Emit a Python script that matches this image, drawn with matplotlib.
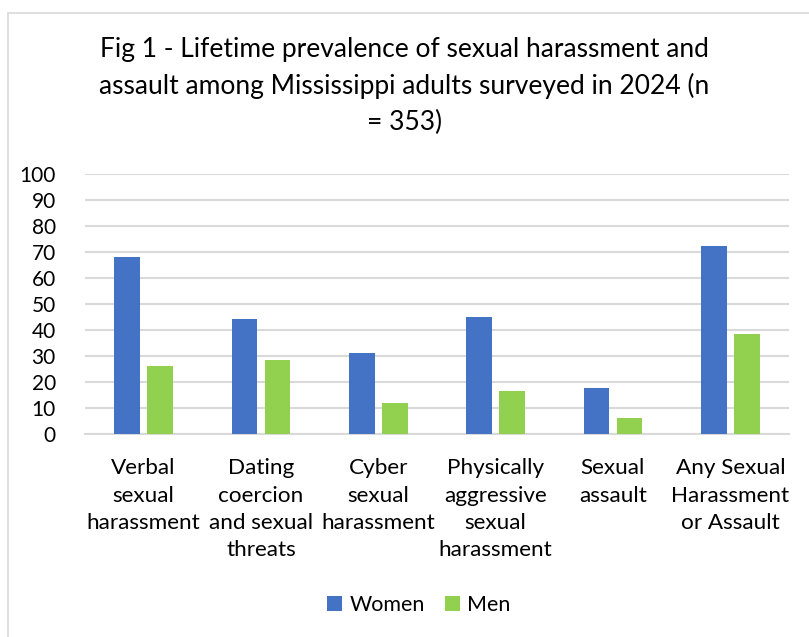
import matplotlib
matplotlib.use("Agg")
import matplotlib.pyplot as plt
import numpy as np
from matplotlib.patches import Rectangle

plt.rcParams['font.family'] = ['Lato', 'DejaVu Sans']

categories = ["Verbal\nsexual\nharassment", "Dating\ncoercion\nand sexual\nthreats",
              "Cyber\nsexual\nharassment", "Physically\naggressive\nsexual\nharassment",
              "Sexual\nassault", "Any Sexual\nHarassment\nor Assault"]
women = [68, 44.2, 30.9, 44.8, 17.5, 72.3]
men = [25.9, 28.2, 11.6, 16.2, 5.9, 38.3]
yticks = list(range(0, 101, 10))

W, H = 809, 637
fig = plt.figure(figsize=(W / 100, H / 100), dpi=100)
fig.patch.set_facecolor('white')

# outer chart border
fig.patches.append(Rectangle((8 / W, -0.05), 1.1, 1 - 13 / H + 0.05, transform=fig.transFigure,
                             fill=False, edgecolor='#d9d9d9', linewidth=1.2))

left, right, top, bottom = 85, 789, 174, 433.5
ax = fig.add_axes([left / W, 1 - bottom / H, (right - left) / W, (bottom - top) / H])

x = np.arange(len(categories))
bw = 0.22
gap = 0.06
ax.bar(x - (bw + gap) / 2, women, bw, color='#4472C4', label='Women', zorder=3)
ax.bar(x + (bw + gap) / 2, men, bw, color='#92D050', label='Men', zorder=3)

ax.set_xlim(-0.5, len(categories) - 0.5)
ax.set_ylim(0, 100)
ax.set_yticks(yticks)
ax.set_yticklabels([str(t) for t in yticks], fontsize=15, color='#000000')
ax.yaxis.grid(True, color='#d9d9d9', linewidth=1.5, zorder=0)
ax.set_axisbelow(True)
for s in ['top', 'right', 'left']:
    ax.spines[s].set_visible(False)
ax.spines['bottom'].set_color('#d9d9d9')
ax.spines['bottom'].set_linewidth(1.5)
ax.tick_params(axis='y', length=0, pad=21)
ax.tick_params(axis='x', length=0, pad=18)
ax.set_xticks(x)
ax.set_xticklabels(categories, fontsize=16.2, linespacing=1.45, va='top')

fig.text(0.5, 1 - 37 / H,
         "Fig 1 - Lifetime prevalence of sexual harassment and\nassault among Mississippi adults surveyed in 2024 (n\n= 353)",
         ha='center', va='top', fontsize=19, linespacing=1.52)

fig.legend(loc='center', bbox_to_anchor=(419 / W, 1 - 605 / H), ncol=2, frameon=False,
           fontsize=15.5, handlelength=0.7, handleheight=0.7, handletextpad=0.35, columnspacing=0.9)

fig.savefig('out.png', dpi=100, facecolor='white')
